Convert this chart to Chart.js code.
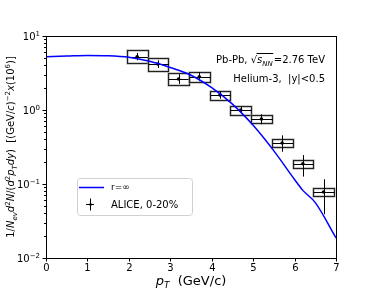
<!DOCTYPE html>
<html>
<head>
<meta charset="utf-8">
<script src="https://cdn.jsdelivr.net/npm/chart.js@4"></script>
<style>
  html, body { margin: 0; padding: 0; background: #fff; }
  #wrap { width: 374px; height: 296px; position: relative; }
</style>
</head>
<body>
<div id="wrap"><canvas id="c"></canvas></div>
<script>
// ---- data ----
const curveX = [0, 0.5, 1.0, 1.5, 2.0, 2.5, 3.0, 3.5, 4.0, 4.5, 5.0, 5.5, 6.0, 6.2, 6.5, 7.0];
const curveY = [5.25, 5.35, 5.45, 5.4, 5.15, 4.55, 3.75, 2.95, 2.0, 1.2, 0.62, 0.28, 0.115, 0.082, 0.056, 0.0187];

const ptX    = [2.2, 2.7, 3.2, 3.7, 4.2, 4.7, 5.2, 5.7, 6.2, 6.7];
const ptY    = [5.25, 4.19, 2.62, 2.82, 1.60, 1.0, 0.755, 0.358, 0.188, 0.078];
const sysLo  = [4.28, 3.36, 2.18, 2.37, 1.36, 0.86, 0.67, 0.32, 0.166, 0.069];
const sysHi  = [6.5, 5.09, 3.13, 3.23, 1.82, 1.13, 0.855, 0.407, 0.211, 0.087];
const statLo = [4.7, 3.7, 2.25, 2.45, 1.42, 0.9, 0.64, 0.273, 0.126, 0.039];
const statHi = [5.9, 4.7, 3.05, 3.25, 1.8, 1.12, 0.875, 0.455, 0.246, 0.116];
const binHalf = 0.25;

const xTicks   = [0, 1, 2, 3, 4, 5, 6, 7];
const yTicks   = [10, 1, 0.1, 0.01];
const yTickExp = ["1", "0", "\u22121", "\u22122"];

const FONT = '"DejaVu Sans", sans-serif';

// ---- text helper: runs of [text, kind], kind = n | i | sub | isub | sup ----
function drawRuns(ctx, parts, x, y, size, measureOnly) {
  let cx = x;
  for (const [t, k] of parts) {
    const small = k.includes("sub") || k.includes("sup");
    const fs = small ? size * 0.7 : size;
    ctx.font = (k.startsWith("i") ? "italic " : "") + fs + "px " + FONT;
    const dy = k.includes("sub") ? size * 0.25 : k.includes("sup") ? -size * 0.42 : 0;
    if (!measureOnly) ctx.fillText(t, cx, y + dy);
    cx += ctx.measureText(t).width;
  }
  return cx - x;
}

const decorations = {
  id: "decorations",
  beforeDatasetsDraw(chart) {
    const { ctx, scales: { x, y } } = chart;
    ctx.save();
    for (let i = 0; i < ptX.length; i++) {
      const l = Math.round(x.getPixelForValue(ptX[i] - binHalf)) + 0.5;
      const r = Math.round(x.getPixelForValue(ptX[i] + binHalf)) + 0.5;
      const t = Math.round(y.getPixelForValue(sysHi[i])) + 0.5;
      const b = Math.round(y.getPixelForValue(sysLo[i])) + 0.5;
      const cy = Math.round(y.getPixelForValue(ptY[i])) + 0.5;
      const cx = Math.round(x.getPixelForValue(ptX[i])) + 0.5;
      // systematic box
      ctx.strokeStyle = "#999";
      ctx.lineWidth = 2;
      ctx.strokeRect(l, t, r - l, b - t);
      ctx.strokeStyle = "#222";
      ctx.lineWidth = 1;
      ctx.strokeRect(l, t, r - l, b - t);
      // x bin line + stat error
      ctx.strokeStyle = "#000";
      ctx.beginPath();
      ctx.moveTo(l, cy); ctx.lineTo(r, cy);
      ctx.moveTo(cx, y.getPixelForValue(statHi[i]));
      ctx.lineTo(cx, y.getPixelForValue(statLo[i]));
      ctx.stroke();
    }
    ctx.restore();
  },
  afterDraw(chart) {
    const { ctx, chartArea: a, scales: { x, y } } = chart;
    ctx.save();
    ctx.fillStyle = "#000";
    ctx.strokeStyle = "#000";
    ctx.lineWidth = 1;

    // frame
    ctx.strokeRect(a.left + 0.5, a.top + 0.5, a.right - a.left, a.bottom - a.top);

    // x ticks + labels
    ctx.font = "10px " + FONT;
    ctx.textAlign = "center";
    ctx.textBaseline = "middle";
    for (const v of xTicks) {
      const px = Math.round(x.getPixelForValue(v)) + 0.5;
      ctx.beginPath(); ctx.moveTo(px, a.bottom); ctx.lineTo(px, a.bottom + 3.5); ctx.stroke();
      ctx.fillText(String(v), px, a.bottom + 10);
    }

    // y ticks: minor then major
    for (let e = -2; e <= 0; e++) {
      for (let m = 2; m <= 9; m++) {
        const py = Math.round(y.getPixelForValue(m * Math.pow(10, e))) + 0.5;
        ctx.beginPath(); ctx.moveTo(a.left, py); ctx.lineTo(a.left - 2, py); ctx.stroke();
      }
    }
    ctx.textAlign = "left";
    ctx.textBaseline = "alphabetic";
    yTicks.forEach((v, i) => {
      const py = Math.round(y.getPixelForValue(v)) + 0.5;
      ctx.beginPath(); ctx.moveTo(a.left, py); ctx.lineTo(a.left - 3.5, py); ctx.stroke();
      const parts = [["10", "n"], [yTickExp[i], "sup"]];
      const w = drawRuns(ctx, parts, 0, 0, 10, true);
      drawRuns(ctx, parts, a.left - 6 - w, py + 3.5, 10);
    });

    // x axis title
    const xt = [["p", "i"], ["T", "isub"], ["  (GeV/c)", "n"]];
    const xw = drawRuns(ctx, xt, 0, 0, 13, true);
    drawRuns(ctx, xt, (a.left + a.right) / 2 - xw / 2, 285, 13);

    // y axis title (rotated)
    const yt = [["1/", "n"], ["N", "i"], ["ev", "isub"], ["d", "i"], ["2", "sup"], ["N", "i"],
                ["/(", "n"], ["d", "i"], ["2", "sup"], ["p", "i"], ["T", "isub"], ["dy", "i"],
                [")", "n"], ["  [(GeV/", "n"], ["c", "i"], [")", "n"], ["\u22122", "sup"],
                ["x", "i"], ["(10", "n"], ["6", "sup"], [")]", "n"]];
    const yw = drawRuns(ctx, yt, 0, 0, 10, true);
    ctx.save();
    ctx.translate(10, (a.top + a.bottom) / 2);
    ctx.rotate(-Math.PI / 2);
    drawRuns(ctx, yt, -yw / 2, 4, 10);
    ctx.restore();

    // annotations (right aligned)
    const t1a = [["Pb-Pb, ", "n"], ["\u221A", "n"]];
    const t1b = [["s", "i"], ["NN", "isub"]];
    const t1c = [["=2.76 TeV", "n"]];
    const wA = drawRuns(ctx, t1a, 0, 0, 10, true);
    const wB = drawRuns(ctx, t1b, 0, 0, 10, true);
    const wC = drawRuns(ctx, t1c, 0, 0, 10, true);
    let sx = 325 - (wA + wB + wC + 1);
    drawRuns(ctx, t1a, sx, 63, 10);
    drawRuns(ctx, t1b, sx + wA, 63, 10);
    ctx.beginPath();
    ctx.moveTo(sx + wA - 0.5, 53.5); ctx.lineTo(sx + wA + wB + 0.5, 53.5);
    ctx.stroke();
    drawRuns(ctx, t1c, sx + wA + wB + 1, 63, 10);

    const t2 = [["Helium-3,  |y|<0.5", "n"]];
    const w2 = drawRuns(ctx, t2, 0, 0, 10, true);
    drawRuns(ctx, t2, 325 - w2, 82, 10);

    // legend
    ctx.fillStyle = "rgba(255,255,255,0.8)";
    ctx.strokeStyle = "#d0d0d0";
    ctx.beginPath();
    ctx.roundRect(77.5, 178.5, 115, 37, 3);
    ctx.fill(); ctx.stroke();
    ctx.strokeStyle = "#0000ff";
    ctx.lineWidth = 1.5;
    ctx.beginPath(); ctx.moveTo(79, 187.5); ctx.lineTo(104, 187.5); ctx.stroke();
    ctx.strokeStyle = "#000";
    ctx.lineWidth = 1;
    ctx.beginPath();
    ctx.moveTo(86, 204.5); ctx.lineTo(94, 204.5);
    ctx.moveTo(90.5, 198.5); ctx.lineTo(90.5, 210.5);
    ctx.stroke();
    ctx.beginPath(); ctx.arc(90.5, 204.5, 1.3, 0, Math.PI * 2); ctx.fillStyle = "#000"; ctx.fill();
    ctx.textBaseline = "middle";
    drawRuns(ctx, [["r=\u221E", "n"]], 111, 188, 9);
    drawRuns(ctx, [["ALICE, 0-20%", "n"]], 111, 205, 10);

    ctx.restore();
  }
};

new Chart(document.getElementById("c"), {
  type: "scatter",
  data: {
    datasets: [
      {
        data: curveX.map((v, i) => ({ x: v, y: curveY[i] })),
        showLine: true,
        borderColor: "#0000ff",
        borderWidth: 1.5,
        pointRadius: 0,
        cubicInterpolationMode: "monotone",
        fill: false
      },
      {
        data: ptX.map((v, i) => ({ x: v, y: ptY[i] })),
        pointRadius: 1.8,
        pointBackgroundColor: "#000",
        pointBorderWidth: 0,
        showLine: false
      }
    ]
  },
  options: {
    responsive: true,
    maintainAspectRatio: false,
    animation: false,
    events: [],
    layout: { padding: { left: 46, right: 38, top: 36, bottom: 38 } },
    plugins: { legend: { display: false }, tooltip: { enabled: false } },
    scales: {
      x: { type: "linear", min: 0, max: 7, display: false },
      y: { type: "logarithmic", min: 0.01, max: 10, display: false }
    }
  },
  plugins: [decorations]
});
</script>
</body>
</html>
